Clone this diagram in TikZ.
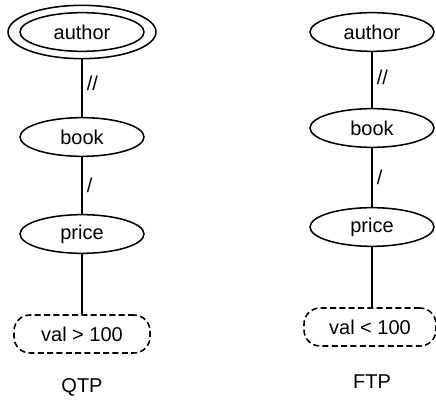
\documentclass[tikz,border=0pt]{standalone}
\usepackage{fontspec}
\setmainfont{Liberation Sans}
\usetikzlibrary{shapes.geometric}

\begin{document}
\begin{tikzpicture}[x=.75pt,y=-.75pt,
      elem/.style={draw,ellipse,line width=1.15pt,minimum width=93pt,minimum height=29pt,
                   inner sep=0pt,font=\fontsize{15}{18}\selectfont},
      rootring/.style={draw,ellipse,line width=1.15pt,minimum width=111pt,minimum height=40pt,inner sep=0pt},
      cond/.style={draw,dashed,dash pattern=on 4.5pt off 2.5pt,line width=1.15pt,rounded corners=12pt,
                   minimum width=102pt,minimum height=28.5pt,inner sep=0pt,font=\fontsize{15}{18}\selectfont},
      edge/.style={line width=1.15pt},
      axis/.style={right=3pt,font=\fontsize{15}{18}\selectfont,inner sep=0pt},
      caption/.style={font=\fontsize{15}{18}\selectfont}]
    \useasboundingbox (0,0) rectangle (436,409);
    % QTP
    \node[elem] (qauthor) at (82,32) {author};
    \node[rootring] (qroot) at (82,32) {};
    \node[elem] (qbook) at (82,137) {book};
    \node[elem] (qprice) at (82,234) {price};
    \node[cond] (qval) at (82,334) {val > 100};
    \draw[edge] (qroot) -- node[axis,pos=.42] {//} (qbook);
    \draw[edge] (qbook) -- node[axis] {/} (qprice);
    \draw[edge] (qprice) -- (qval);
    \node[caption] (qtp) at (82,387) {QTP};
    % FTP
    \node[elem] (fauthor) at (372,32) {author};
    \node[elem] (fbook) at (372,128) {book};
    \node[elem] (fprice) at (372,227) {price};
    \node[cond,minimum width=99pt] (fval) at (370,327) {val < 100};
    \draw[edge] (fauthor) -- node[axis,pos=.45] {//} (fbook);
    \draw[edge] (fbook) -- node[axis] {/} (fprice);
    \draw[edge] (fprice) -- (fprice |- fval.north);
    \node[caption] (ftp) at (372,382) {FTP};
\end{tikzpicture}
\end{document}
